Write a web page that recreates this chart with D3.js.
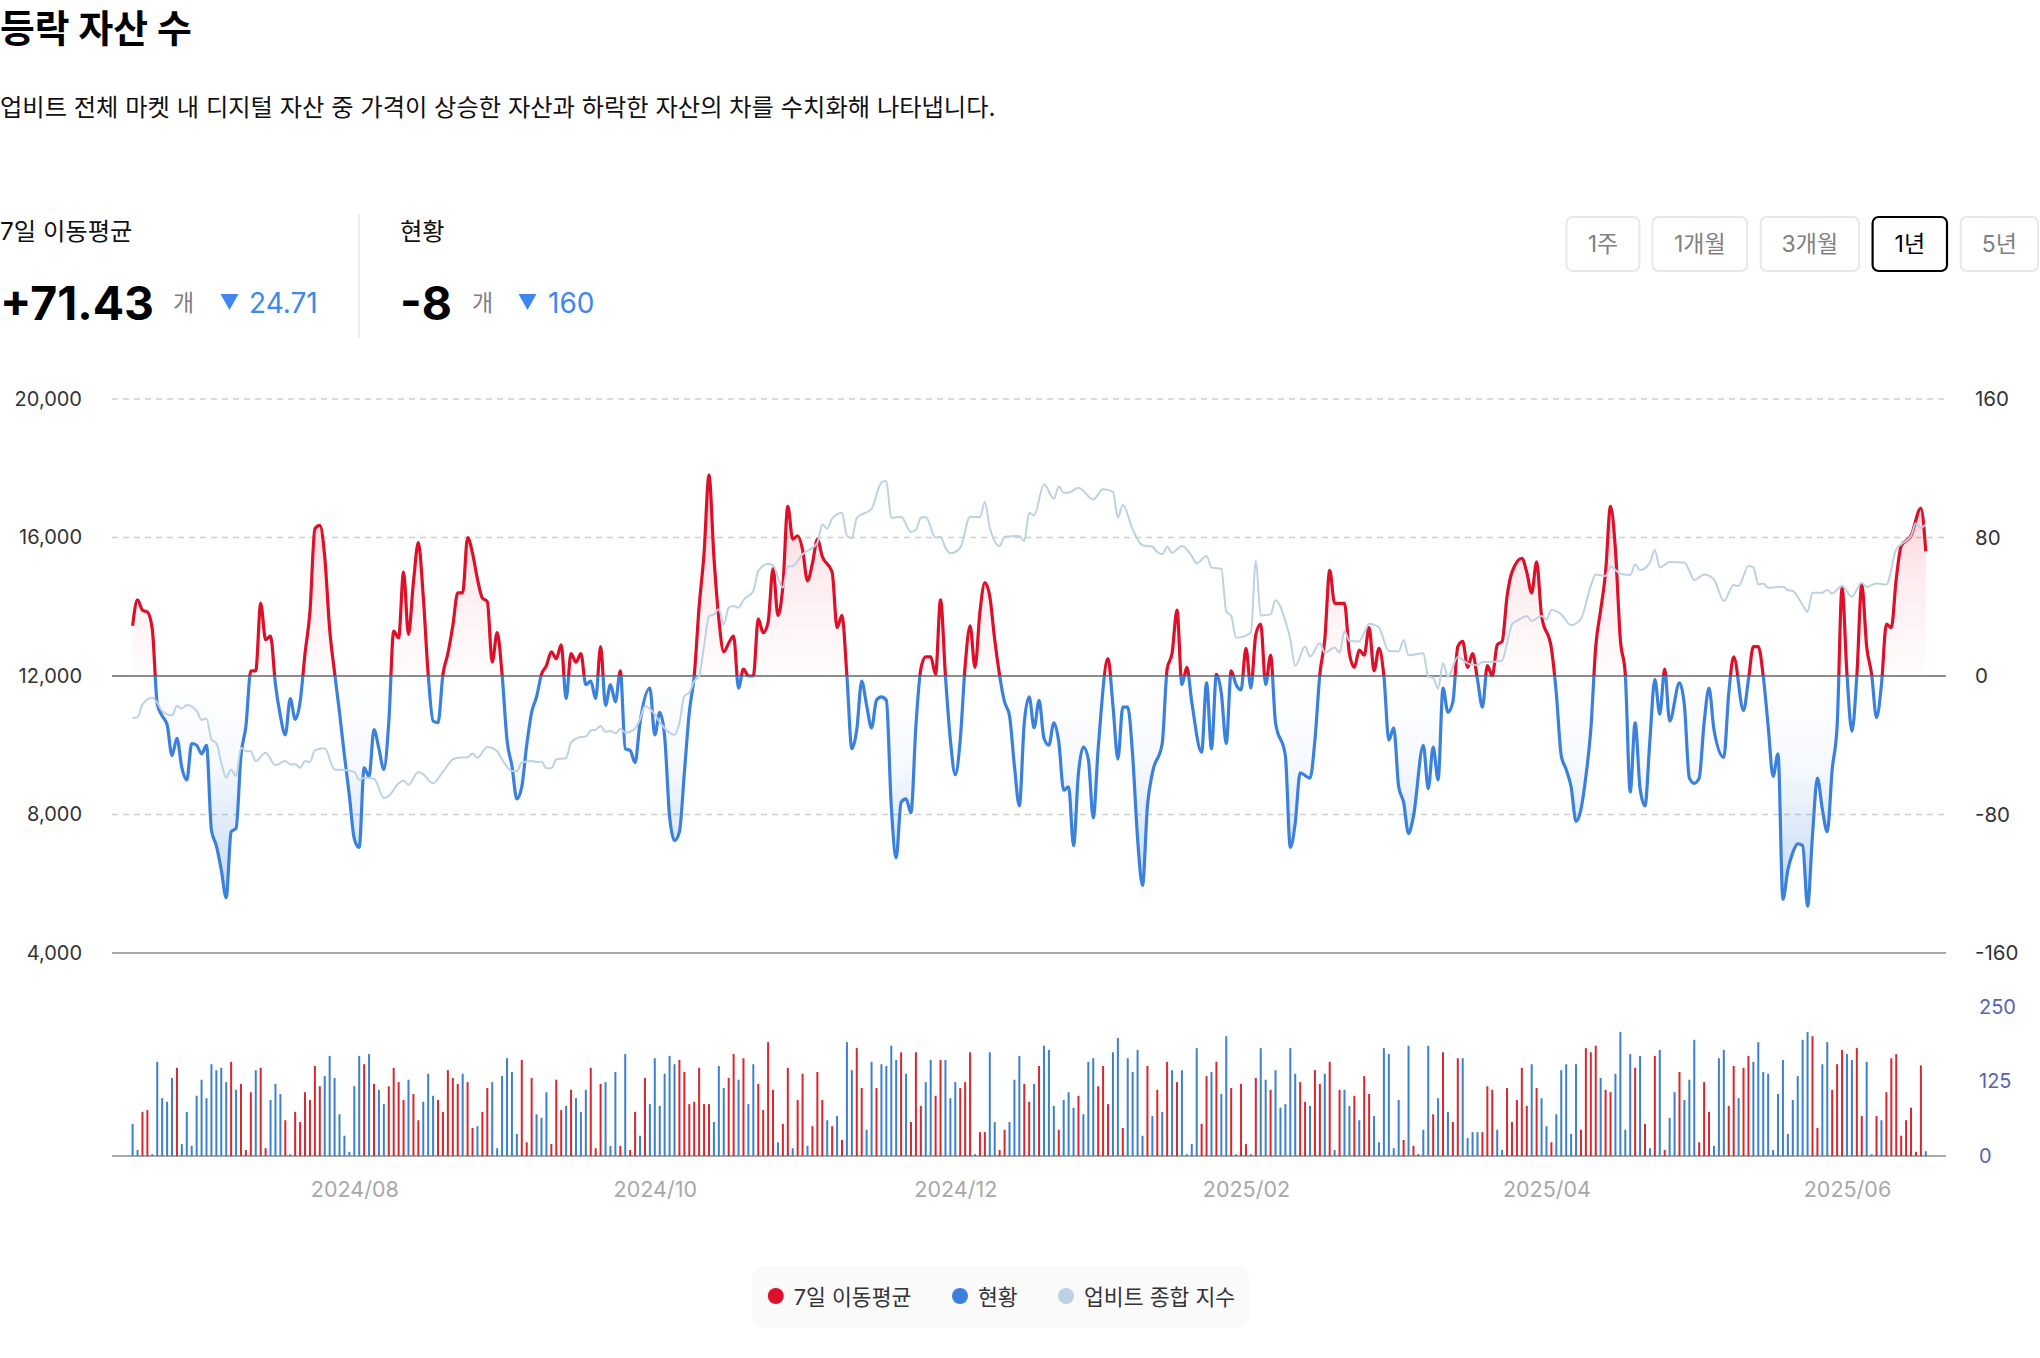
<!DOCTYPE html>
<html lang="ko">
<head>
<meta charset="utf-8">
<title>등락 자산 수</title>
<script src="https://cdn.jsdelivr.net/npm/d3@7"></script>
<style>
  html, body { margin: 0; padding: 0; background: #fff; overflow: hidden; }
  text { font-family: "Inter", "Noto Sans CJK KR", sans-serif; }
  .domain { display: none; }
  .tick line { display: none; }
</style>
</head>
<body>
<script>
var lastDay = 364;

var leftTicks = [4000, 8000, 12000, 16000, 20000];
var rightTicks = [-160, -80, 0, 80, 160];
var barTicks = [0, 125, 250];
var dateTickDays = [45, 106, 167, 226, 287, 348];
var dateTickLabels = ['2024/08', '2024/10', '2024/12', '2025/02', '2025/04', '2025/06'];
var rangeLabels = ['1주', '1개월', '3개월', '1년', '5년'];
var legendLabels = ['7일 이동평균', '현황', '업비트 종합 지수'];

// 7 day moving average at its turning points
var maDays = [
  0,1,2,3,4,5,6,7,8,9,10,
  11,12,13,14,15,16,17,18,19,20,
  21,22,23,24,25,26,27,28,29,30,
  31,32,33,34,35,36,37,38,39,40,
  41,42,43,44,45,46,47,48,49,50,
  51,52,53,54,55,56,57,58,59,60,
  61,62,63,64,65,66,67,68,69,70,
  71,72,73,74,75,76,77,78,79,80,
  81,82,83,84,85,86,87,88,89,90,
  91,92,93,94,95,96,97,98,99,100,
  101,102,103,105,106,107,108,109,110,
  111,112,113,114,115,116,117,118,119,120,
  121,122,123,124,125,126,127,128,129,130,
  131,132,133,134,135,136,137,138,139,140,
  142,143,144,145,146,147,148,149,150,
  151,152,153,154,155,156,157,158,159,160,
  161,162,163,164,165,166,167,168,169,170,
  171,172,173,174,175,177,178,179,180,
  181,182,183,184,185,186,187,188,189,190,
  191,192,193,194,195,196,198,199,200,
  201,202,203,204,205,206,207,209,210,
  211,212,213,214,215,217,218,219,220,
  221,222,223,224,225,226,227,228,229,230,
  231,232,234,235,236,237,239,240,
  241,242,243,244,246,247,248,249,250,
  251,252,253,254,255,256,257,258,259,260,
  262,263,264,265,266,267,268,269,270,
  271,272,273,274,275,276,277,278,279,280,
  282,283,284,285,286,288,289,290,
  291,292,293,294,295,296,297,298,299,300,
  301,302,303,304,305,306,307,308,309,310,
  311,312,314,315,316,317,318,319,320,
  321,323,324,325,327,328,329,330,
  331,332,333,334,335,336,337,338,339,340,
  341,342,343,344,345,346,347,348,349,350,
  351,352,353,354,355,356,357,358,359,361,
  363,364
];
var maValues = [
  29,44,38,37,27,-16,-23,-28,-46,-36,-53,
  -60,-39,-40,-45,-40,-89,-98,-112,-128,-90,
  -88,-46,-29,3,3,42,21,23,-5,-23,
  -34,-13,-25,-15,13,37,85,87,69,27,
  2,-21,-46,-69,-94,-99,-53,-58,-31,-42,
  -54,-27,26,22,60,24,54,77,46,1,
  -26,-27,1,13,29,48,48,80,71,56,
  45,43,8,25,1,-37,-52,-71,-64,-40,
  -21,-12,1,6,14,10,18,-13,13,8,
  13,-5,-3,-13,17,-17,-5,-15,3,-42,
  -43,-50,-27,-7,-34,-21,-35,-81,-95,
  -90,-56,-21,0,40,71,116,69,33,14,
  19,23,-7,4,0,0,33,25,31,62,
  35,52,98,79,81,73,55,65,79,69,
  60,28,35,0,-42,-31,-3,-17,-30,
  -14,-12,-14,-75,-105,-73,-71,-79,-29,4,
  11,11,1,44,0,-37,-57,-37,6,29,
  5,37,54,46,21,-15,-23,-52,-75,
  -27,-12,-30,-14,-36,-40,-27,-38,-66,-64,
  -98,-56,-41,-48,-82,-42,10,-17,-48,
  -18,-18,-46,-94,-121,-75,-56,-39,4,
  13,38,-5,5,-15,-44,-4,-42,1,
  -10,-39,3,-5,-8,16,-7,24,30,-5,
  12,-27,-46,-99,-85,-56,-59,-37,
  1,21,61,42,42,13,5,15,12,
  28,3,16,0,-37,-30,-64,-73,-91,-81,
  -40,-65,-41,-60,-7,-21,-15,17,20,
  5,13,-2,-18,6,0,18,20,46,60,
  68,60,48,66,35,16,-10,-46,
  -54,-64,-84,-77,-58,-31,17,38,60,98,
  73,21,1,-67,-27,-65,-75,-37,-2,-22,
  4,-26,-4,-17,-59,-62,-59,-27,-7,
  -31,-47,-10,11,-20,-2,17,17,
  0,-29,-58,-45,-129,-112,-102,-97,-98,-133,
  -92,-59,-77,-90,-54,-29,51,1,-32,0,
  53,17,1,-24,-5,30,28,56,75,81,
  97,72
];

// Upbit composite index on the left axis
var indexDays = [
  0,1,2,4,5,6,8,9,10,11,
  13,14,15,16,17,18,19,20,21,22,
  23,24,25,27,29,31,32,33,34,35,
  36,37,39,41,43,45,46,47,49,51,
  52,54,55,56,58,59,61,63,65,66,
  68,69,70,72,74,75,77,78,79,81,
  82,83,84,85,86,88,89,91,92,93,
  94,95,96,97,98,99,100,102,103,104,
  106,107,109,110,111,112,113,114,115,116,
  117,118,119,120,121,122,123,124,126,127,
  129,130,132,133,134,136,139,140,141,142,
  144,145,146,147,150,152,153,154,156,158,
  159,160,161,163,164,165,166,168,170,172,
  173,174,176,177,180,181,182,183,185,187,
  188,189,190,192,195,197,199,200,201,203,
  205,207,208,209,210,211,213,215,216,218,
  219,221,222,223,224,227,228,229,231,232,
  234,235,236,238,239,241,242,244,245,246,
  247,249,250,251,252,253,255,257,258,259,
  262,263,264,265,266,267,269,271,273,274,
  275,278,279,280,281,283,284,286,287,288,
  290,292,294,296,297,299,300,302,304,305,
  306,308,309,310,312,315,316,317,319,321,
  323,325,326,328,329,330,331,332,335,336,
  337,339,340,341,343,344,345,347,349,351,
  352,354,356,358,359,361,362,363,364
];
var indexValues = [
  10790,10810,11180,11370,11230,10990,10860,11130,11060,11160,
  10990,10730,10770,10170,10055,9500,9060,9300,9110,9930,
  9830,9830,9545,9785,9420,9545,9450,9450,9350,9545,
  9515,9860,9910,9300,9285,9230,9000,9060,9035,8480,
  8535,8900,8980,8860,9230,9160,8900,9240,9590,9640,
  9650,9760,9640,9950,9830,9590,9255,9255,9500,9545,
  9515,9525,9335,9335,9590,9630,10075,10240,10250,10430,
  10450,10555,10390,10410,10345,10480,10365,10480,10750,11135,
  10890,10670,10365,10300,10650,11420,11520,11855,12000,12870,
  13730,13780,13925,13490,13975,14020,13975,14195,14455,15030,
  15245,15195,14550,15160,15175,15515,15850,16380,16255,16545,
  16715,16045,15985,16570,16830,17585,17630,16570,16600,16160,
  16215,16570,16590,15995,16025,15705,15545,15705,16600,16590,
  17025,16285,15755,16025,16045,15900,16715,16640,17535,17120,
  17470,17295,17295,17440,17100,17390,17315,16570,16940,16235,
  15775,15735,15580,15515,15735,15560,15755,15465,15255,15465,
  15130,15100,13860,13730,13105,13250,15320,13750,13780,14185,
  13590,13060,12290,12850,12560,12945,12675,12820,12675,13300,
  13010,13000,13250,13510,13480,13400,12720,12710,13040,12600,
  12655,11980,11950,11635,12365,11980,12550,12365,12310,12405,
  12405,12450,12945,13490,13590,13730,13590,13730,13635,13905,
  13780,13465,13655,14600,14935,14890,15160,14955,14915,15225,
  15060,15275,15640,15130,15290,15275,15030,14775,14935,14790,
  14165,14630,14600,15175,15130,14645,14675,14550,14580,14485,
  14455,14050,13850,14405,14405,14485,14385,14600,14290,14695,
  14570,14675,14645,15660,15805,16045,16410,16285,16380
];

// daily status: bar height is the size, the sign gives red or blue
var statusValues = [
  -54,-10,74,77,-3,-158,-97,-91,-131,148,-20,-74,-17,-101,-128,-97,-154,-144,-148,-124,
  158,-111,121,10,107,-144,148,13,-94,-121,-104,60,-3,74,57,107,94,151,117,-134,
  -168,-131,-70,-34,-7,-117,-168,154,-171,121,-111,-87,117,148,124,94,-128,104,60,-91,
  -138,-101,94,74,144,131,121,-138,124,47,-50,74,114,-124,-13,-134,-164,-141,-37,161,
  23,131,-70,-64,-107,20,128,77,-84,111,-97,-74,-111,148,13,121,-124,-17,-141,17,
  -171,10,74,-34,131,-87,-164,-84,-138,-168,-154,161,141,87,91,148,87,87,-57,-151,
  -114,131,171,-128,
  164,-87,-154,121,77,191,111,-23,54,148,-13,94,138,-17,50,141,94,-60,50,-67,
  27,-191,-144,181,114,-44,-158,114,-154,-151,-185,-161,174,-138,57,174,84,-124,-161,101,
  161,-161,-97,-124,114,124,174,-3,40,40,-174,-57,10,44,-57,-128,-168,121,91,-121,
  151,-185,-178,-84,44,-94,-107,-81,101,-70,-158,-164,117,151,87,-174,-198,47,-164,-141,
  -178,-34,151,-67,111,-74,158,-144,124,-144,-3,-20,-181,54,134,-141,158,-104,-201,114,
  -3,121,20,-3,131,-181,-128,111,-144,-81,-87,-181,-138,124,91,-84,144,121,-138,158,
  -10,111,-111,-84,101,
  -60,134,104,-67,-23,-181,-171,-13,-94,27,-185,17,3,-44,-185,70,-97,174,-74,57,
  164,-164,-30,-40,-40,40,117,111,-44,-10,114,57,94,148,84,-154,114,-97,-50,23,
  -70,-144,-154,-37,-154,44,181,174,185,-131,111,107,-138,-208,-44,-171,148,-168,54,-13,
  168,-178,10,-64,-107,141,-94,-128,-195,23,124,74,-17,-164,-178,84,151,-97,148,168,
  -158,-191,-141,-138,-10,-104,-161,-37,-94,-134,-195,-208,201,47,-154,-191,111,154,178,-171,
  -161,181,67,-158,-3,67,-60,107,164,171,34,60,81,7,152,-8
];

var width = 2040, height = 1358;
var plotLeft = 112, plotRight = 1946;
var red = '#de1029', blue = '#3a80dc', grey = '#bdd1e5';
var barRed = '#d9272f', barBlue = '#3d80d0';

var svg = d3.select('body').append('svg')
            .attr('width', width)
            .attr('height', height);

var xScale = d3.scaleLinear().domain([0, lastDay]).range([132.6, 1925.8]);
var leftScale = d3.scaleLinear().domain([4000, 20000]).range([953, 399]);
var rightScale = d3.scaleLinear().domain([-160, 160]).range([953, 399]);
var barScale = d3.scaleLinear().domain([0, 250]).range([1156, 1007]);
var zeroY = rightScale(0);

// header
function addText(x, y, str, size, color, weight, anchor) {
  return svg.append('text')
            .attr('x', x).attr('y', y)
            .attr('font-size', size)
            .attr('font-weight', weight || 400)
            .attr('fill', color)
            .attr('text-anchor', anchor || 'start')
            .attr('dominant-baseline', 'central')
            .text(str);
}
addText(0, 28, '등락 자산 수', 37.8, '#000', 700);
addText(0, 107, '업비트 전체 마켓 내 디지털 자산 중 가격이 상승한 자산과 하락한 자산의 차를 수치화해 나타냅니다.', 24.28, '#111');

addText(0, 231, legendLabels[0], 24.3, '#111');
addText(0, 303, '+71.43', 46.4, '#000', 700);
addText(173, 303, '개', 23, '#808080');
addText(249, 303, '24.71', 28, '#3f86f0');
addText(400, 231, legendLabels[1], 24.3, '#111');
addText(400, 303, '-8', 46.4, '#000', 700);
addText(472, 303, '개', 23, '#808080');
addText(548, 303, '160', 28, '#3f86f0');

svg.append('line')
   .attr('x1', 359).attr('x2', 359).attr('y1', 214).attr('y2', 338)
   .attr('stroke', '#e2e5ec').attr('stroke-width', 1.5);

svg.selectAll('.down')
   .data([229.5, 527.5])
   .enter()
   .append('path')
   .attr('class', 'down')
   .attr('d', function(d) {
     return 'M' + (d - 9) + ',294L' + (d + 9) + ',294L' + d + ',310Z';
   })
   .attr('fill', '#3f86f0');

// range buttons
var buttonEdges = [[1566.5, 1639.5], [1652.5, 1747], [1760.7, 1859], [1872.6, 1947], [1960.7, 2038]];
rangeLabels.forEach(function(label, i) {
  var left = buttonEdges[i][0], right = buttonEdges[i][1];
  var active = label === '1년';
  svg.append('rect')
     .attr('x', left).attr('y', 217)
     .attr('width', right - left).attr('height', 54)
     .attr('rx', 6)
     .attr('fill', '#fff')
     .attr('stroke', active ? '#000' : '#e8e8e8')
     .attr('stroke-width', active ? 2.2 : 2);
  addText((left + right) / 2, 244, label, 23, active ? '#000' : '#808080', 400, 'middle');
});

// grid
svg.selectAll('.grid')
   .data(leftTicks)
   .enter()
   .append('line')
   .attr('class', 'grid')
   .attr('x1', plotLeft).attr('x2', plotRight)
   .attr('y1', function(d) { return leftScale(d); })
   .attr('y2', function(d) { return leftScale(d); })
   .attr('stroke', function(d) { return d === 12000 || d === 4000 ? '#8c8c8c' : '#cfcfcf'; })
   .attr('stroke-width', function(d) { return d === 12000 ? 2 : 1.5; })
   .attr('stroke-dasharray', function(d) { return d === 12000 || d === 4000 ? null : '6 5'; });

svg.append('line')
   .attr('x1', plotLeft).attr('x2', plotRight)
   .attr('y1', barScale(0)).attr('y2', barScale(0))
   .attr('stroke', '#8c8c8c').attr('stroke-width', 1.5);

// axes
var leftAxis = d3.axisLeft(leftScale)
                 .tickValues(leftTicks)
                 .tickFormat(d3.format(','))
                 .tickSize(0).tickPadding(0);
var rightAxis = d3.axisRight(rightScale)
                  .tickValues(rightTicks)
                  .tickFormat(String)
                  .tickSize(0).tickPadding(0);
var barAxis = d3.axisRight(barScale)
                .tickValues(barTicks)
                .tickSize(0).tickPadding(0);
var dateAxis = d3.axisBottom(xScale)
                 .tickValues(dateTickDays)
                 .tickFormat(function(d, i) { return dateTickLabels[i]; })
                 .tickSize(0).tickPadding(0);

svg.append('g').attr('transform', 'translate(82,0)').call(leftAxis)
   .selectAll('text').attr('font-size', 20).attr('fill', '#333');
svg.append('g').attr('transform', 'translate(1975,0)').call(rightAxis)
   .selectAll('text').attr('font-size', 20.5).attr('fill', '#333');
svg.append('g').attr('transform', 'translate(1979,0)').call(barAxis)
   .selectAll('text').attr('font-size', 20).attr('fill', '#5863ad');
svg.append('g').attr('transform', 'translate(0,1182)').call(dateAxis)
   .selectAll('text').attr('font-size', 21.5).attr('fill', '#a8a8a8');
svg.selectAll('.tick text').attr('font-family', '"Inter", sans-serif');

// bars
svg.append('g').selectAll('rect')
   .data(statusValues)
   .enter()
   .append('rect')
   .attr('x', function(d, i) { return xScale(i) - 1; })
   .attr('y', function(d) { return barScale(Math.abs(d)); })
   .attr('width', 2)
   .attr('height', function(d) { return barScale(0) - barScale(Math.abs(d)); })
   .attr('fill', function(d) { return d > 0 ? barRed : barBlue; });

// moving average: split at zero with clips, fill fades towards the zero line
var defs = svg.append('defs');
defs.append('clipPath').attr('id', 'above').append('rect')
    .attr('x', 0).attr('y', 0).attr('width', width).attr('height', zeroY);
defs.append('clipPath').attr('id', 'below').append('rect')
    .attr('x', 0).attr('y', zeroY).attr('width', width).attr('height', height - zeroY);

function addGradient(id, color, from, to, stops) {
  var g = defs.append('linearGradient').attr('id', id)
              .attr('gradientUnits', 'userSpaceOnUse')
              .attr('x1', 0).attr('x2', 0)
              .attr('y1', from).attr('y2', to);
  stops.forEach(function(s) {
    g.append('stop').attr('offset', s[0]).attr('stop-color', color).attr('stop-opacity', s[1]);
  });
}
addGradient('redFill', red, rightScale(d3.max(maValues)), zeroY, [[0, 0.22], [0.5, 0.08], [1, 0.01]]);
addGradient('blueFill', blue, rightScale(d3.min(maValues)), zeroY, [[0, 0.32], [0.35, 0.16], [0.6, 0.05], [1, 0]]);

var maPoints = d3.zip(maDays, maValues);
var maLine = d3.line()
               .x(function(d) { return xScale(d[0]); })
               .y(function(d) { return rightScale(d[1]); })
               .curve(d3.curveMonotoneX);
var maArea = d3.area()
               .x(function(d) { return xScale(d[0]); })
               .y0(zeroY)
               .y1(function(d) { return rightScale(d[1]); })
               .curve(d3.curveMonotoneX);

[['above', 'redFill', red], ['below', 'blueFill', blue]].forEach(function(side) {
  svg.append('path').datum(maPoints)
     .attr('d', maArea)
     .attr('clip-path', 'url(#' + side[0] + ')')
     .attr('fill', 'url(#' + side[1] + ')');
  svg.append('path').datum(maPoints)
     .attr('d', maLine)
     .attr('clip-path', 'url(#' + side[0] + ')')
     .attr('fill', 'none')
     .attr('stroke', side[2])
     .attr('stroke-width', 3.2)
     .attr('stroke-linejoin', 'round');
});

var indexLine = d3.line()
                  .x(function(d) { return xScale(d[0]); })
                  .y(function(d) { return leftScale(d[1]); })
                  .curve(d3.curveMonotoneX);
svg.append('path').datum(d3.zip(indexDays, indexValues))
   .attr('d', indexLine)
   .attr('fill', 'none')
   .attr('stroke', grey)
   .attr('stroke-width', 2);

// legend
svg.append('rect')
   .attr('x', 752).attr('y', 1266)
   .attr('width', 497.5).attr('height', 62)
   .attr('rx', 14)
   .attr('fill', '#fafafa');
var legendX = [[775.8, 793.8], [960, 978], [1066, 1084]];
var legendColors = [red, blue, grey];
legendLabels.forEach(function(label, i) {
  svg.append('circle')
     .attr('cx', legendX[i][0]).attr('cy', 1296).attr('r', 8)
     .attr('fill', legendColors[i]);
  addText(legendX[i][1], 1297, label, 21.6, '#333');
});
</script>
</body>
</html>
